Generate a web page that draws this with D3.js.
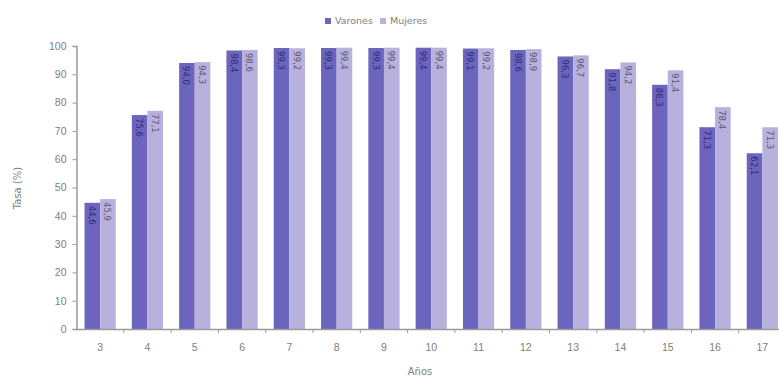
<!DOCTYPE html>
<html><head><meta charset="utf-8">
<script src="https://cdn.jsdelivr.net/npm/d3@7"></script>
<style>body{margin:0;background:#fff}svg{display:block;font-family:"DejaVu Sans",Verdana,sans-serif}</style>
</head><body><svg id="c" width="779" height="376"></svg>
<script>
const categories = ["3","4","5","6","7","8","9","10","11","12","13","14","15","16","17"];
const varones = [44.6,75.6,94.0,98.4,99.3,99.3,99.3,99.4,99.1,98.6,96.3,91.8,86.3,71.3,62.1];
const mujeres = [45.9,77.1,94.3,98.6,99.2,99.4,99.4,99.4,99.2,98.9,96.7,94.2,91.4,78.4,71.3];
const seriesNames = ["Varones","Mujeres"];
const colors = ["#6b65be","#b9b1dd"];
const labelColors = ["#2e2a78","#5a5670"];
const yTicks = [0,10,20,30,40,50,60,70,80,90,100];

const svg = d3.select("#c");
const x = d3.scaleBand().domain(categories).range([76.5,786]).paddingInner(0.34).paddingOuter(0.17);
const xs = d3.scaleBand().domain([0,1]).range([0,x.bandwidth()]);
const y = d3.scaleLinear().domain([0,100]).range([329,46]);
const fmt = v => d3.format(".1f")(v).replace(".",",");

const data = [varones,mujeres];
data.forEach((arr,si)=>{
  const g = svg.append("g");
  g.selectAll("rect").data(arr).join("rect")
    .attr("x",(d,i)=>x(categories[i])+xs(si))
    .attr("y",d=>y(d))
    .attr("width",xs.bandwidth())
    .attr("height",d=>y(0)-y(d))
    .attr("fill",colors[si]);
  g.selectAll("text").data(arr).join("text")
    .attr("transform",(d,i)=>`translate(${x(categories[i])+xs(si)+xs.bandwidth()/2-3.5},${y(d)+3}) rotate(90)`)
    .attr("font-size",8.5).attr("fill",labelColors[si])
    .text(d=>fmt(d));
});

const yAxis = svg.append("g").attr("transform","translate(76.5,0)")
  .call(d3.axisLeft(y).tickValues(yTicks).tickSize(4).tickPadding(6));
yAxis.select(".domain").attr("stroke","#9a9a9a").attr("stroke-width",1.5);
yAxis.selectAll(".tick line").attr("stroke","#9a9a9a");
yAxis.selectAll("text").attr("fill","#808080").attr("font-size",10.5);

const xAxis = svg.append("g").attr("transform",`translate(0,${y(0)})`)
  .call(d3.axisBottom(x).tickSize(0).tickPadding(15));
xAxis.select(".domain").attr("stroke","#9a9a9a").attr("stroke-width",1.5);
xAxis.selectAll("text").attr("fill","#808080").attr("font-size",10.5);
const step = x.step();
svg.append("g").selectAll("line").data(categories.slice(1)).join("line")
  .attr("x1",d=>x(d)-(step-x.bandwidth())/2).attr("x2",d=>x(d)-(step-x.bandwidth())/2)
  .attr("y1",y(0)).attr("y2",y(0)+4).attr("stroke","#9a9a9a");

svg.append("text").attr("transform","translate(21,188) rotate(-90)")
  .attr("text-anchor","middle").attr("font-size",10).attr("fill","#808080").text("Tasa (%)");
svg.append("text").attr("x",420).attr("y",375)
  .attr("text-anchor","middle").attr("font-size",10).attr("fill","#808080").text("Años");

const leg = svg.append("g").attr("transform","translate(325,22)");
const lx = [0,55];
seriesNames.forEach((n,i)=>{
  leg.append("rect").attr("x",lx[i]).attr("y",-4).attr("width",6).attr("height",6).attr("fill",colors[i]);
  leg.append("text").attr("x",lx[i]+10).attr("y",2).attr("font-size",9.5).attr("fill","#808080").text(n);
});
</script></body></html>
